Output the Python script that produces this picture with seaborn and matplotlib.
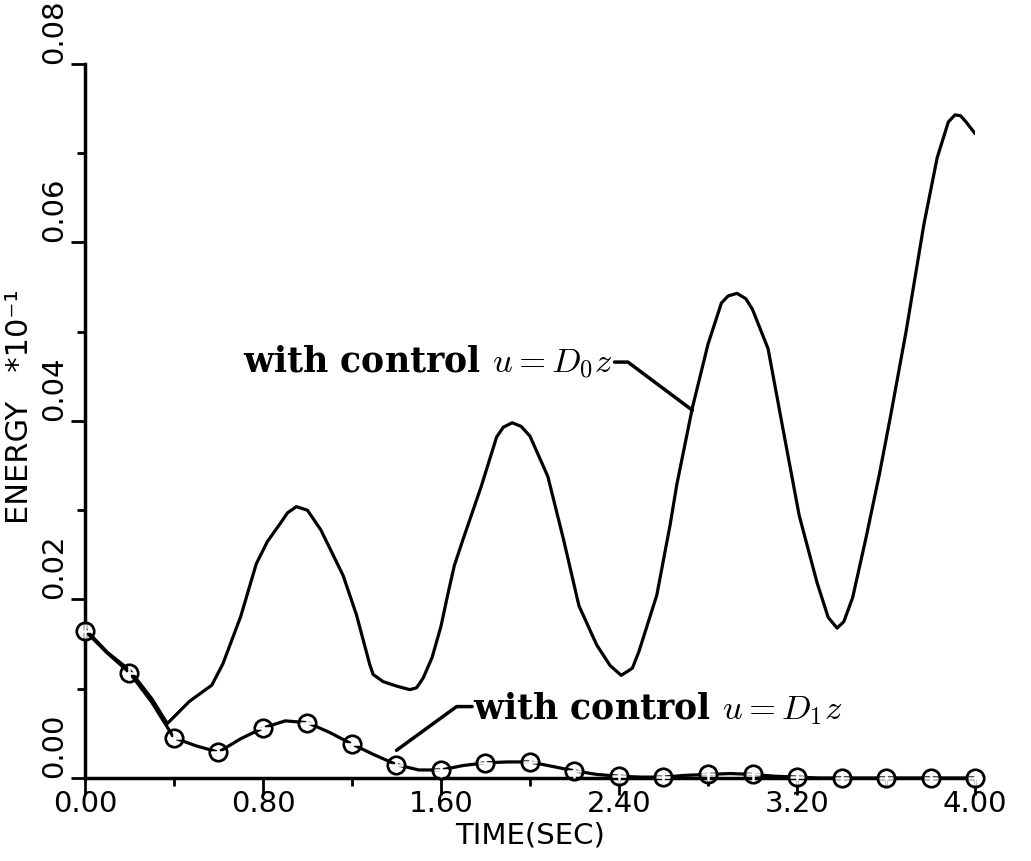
import numpy as np
import pandas as pd
import matplotlib
matplotlib.use("Agg")
import matplotlib.pyplot as plt
import seaborn as sns
from matplotlib.ticker import MultipleLocator, FormatStrFormatter

# ---- data ----
t_d0 = [0.00, 0.10, 0.20, 0.30, 0.37, 0.47, 0.57, 0.62, 0.70, 0.77, 0.82, 0.88,
        0.91, 0.95, 1.00, 1.06, 1.16, 1.22, 1.25, 1.28, 1.295, 1.34, 1.40, 1.46,
        1.49, 1.52, 1.56, 1.60, 1.63, 1.66, 1.70, 1.78, 1.85, 1.88, 1.92, 1.96,
        2.00, 2.08, 2.15, 2.22, 2.30, 2.36, 2.41, 2.46, 2.49, 2.57, 2.63, 2.66,
        2.73, 2.80, 2.86, 2.89, 2.93, 2.97, 3.00, 3.07, 3.14, 3.21, 3.29, 3.34,
        3.38, 3.41, 3.45, 3.51, 3.57, 3.62, 3.69, 3.77, 3.83, 3.88, 3.91, 3.935,
        3.96, 4.00]
energy_d0 = [0.0167, 0.0141, 0.0121, 0.0089, 0.0061, 0.0086, 0.0104, 0.0128,
             0.0181, 0.0240, 0.0265, 0.0286, 0.0297, 0.0304, 0.0300, 0.0278,
             0.0227, 0.0183, 0.0155, 0.0127, 0.0116, 0.0108, 0.0103, 0.0099,
             0.0101, 0.0112, 0.0135, 0.0170, 0.0205, 0.0238, 0.0268, 0.0326,
             0.0382, 0.0393, 0.0398, 0.0394, 0.0383, 0.0338, 0.0268, 0.0193,
             0.0149, 0.0126, 0.0115, 0.0123, 0.0142, 0.0205, 0.0284, 0.0329,
             0.0415, 0.0486, 0.0532, 0.0540, 0.0543, 0.0537, 0.0525, 0.0481,
             0.0387, 0.0294, 0.0219, 0.0180, 0.0168, 0.0175, 0.0202, 0.0269,
             0.0340, 0.0405, 0.0500, 0.0620, 0.0695, 0.0735, 0.0743, 0.0742,
             0.0735, 0.0722]

t_d1 = [round(0.1 * i, 1) for i in range(41)]
energy_d1 = [0.0165, 0.0140, 0.0118, 0.0085, 0.0045, 0.0036, 0.0029, 0.0044,
             0.0056, 0.0064, 0.0062, 0.0051, 0.0038, 0.0026, 0.0015, 0.0009,
             0.0009, 0.0014, 0.0017, 0.0018, 0.0018, 0.0013, 0.0008, 0.0004,
             0.0002, 0.0001, 0.0001, 0.0003, 0.0004, 0.0005, 0.0004, 0.0002,
             0.0001, 0.0000, 0.0000, 0.0000, 0.0000, 0.0000, 0.0000, 0.0000,
             0.0000]

x_ticks = [0.00, 0.80, 1.60, 2.40, 3.20, 4.00]
y_ticks = [0.00, 0.02, 0.04, 0.06, 0.08]

label_d0 = r"with control $u = D_0 z$"
label_d1 = r"with control $u = D_1 z$"

# ---- style ----
sns.set_style("ticks")
plt.rcParams["font.family"] = ["DejaVu Sans"]
plt.rcParams["mathtext.fontset"] = "cm"
plt.rcParams["text.color"] = "black"
plt.rcParams["axes.labelcolor"] = "black"
plt.rcParams["xtick.color"] = "black"
plt.rcParams["ytick.color"] = "black"

fig = plt.figure(figsize=(10.31, 8.61), dpi=100)
ax = fig.add_axes([0.0824, 0.0964, 0.8633, 0.8293])

df0 = pd.DataFrame({"t": t_d0, "e": energy_d0})
df1 = pd.DataFrame({"t": t_d1, "e": energy_d1})
dfm = df1.iloc[::2]

sns.lineplot(data=df0, x="t", y="e", ax=ax, color="black", lw=2.3,
             estimator=None, sort=False)
sns.lineplot(data=df1, x="t", y="e", ax=ax, color="black", lw=2.3,
             estimator=None)
sns.lineplot(data=dfm, x="t", y="e", ax=ax, color="black", linestyle="none",
             marker="o", markersize=12.5, markerfacecolor="none",
             markeredgecolor="black", markeredgewidth=2.0, estimator=None,
             clip_on=False, zorder=4)
sns.lineplot(data=dfm, x="t", y="e", ax=ax, color="black", linestyle="none",
             marker="+", markersize=10, markeredgewidth=1.8, estimator=None,
             clip_on=False, zorder=4)

ax.set_xlim(0, 4.0)
ax.set_ylim(0, 0.08)
ax.set_xticks(x_ticks)
ax.set_yticks(y_ticks)
ax.xaxis.set_minor_locator(MultipleLocator(0.4))
ax.yaxis.set_minor_locator(MultipleLocator(0.01))
ax.xaxis.set_major_formatter(FormatStrFormatter("%.2f"))
ax.yaxis.set_major_formatter(FormatStrFormatter("%.2f"))

for s in ["top", "right"]:
    ax.spines[s].set_visible(False)
for s in ["left", "bottom"]:
    ax.spines[s].set_linewidth(2.5)
    ax.spines[s].set_color("black")

ax.tick_params(axis="x", which="major", length=12, width=2, labelsize=21,
               pad=-3, colors="black")
ax.tick_params(axis="x", which="minor", length=6, width=2, colors="black")
ax.tick_params(axis="y", which="major", length=10, width=2, labelsize=21,
               pad=2, colors="black")
ax.tick_params(axis="y", which="minor", length=6, width=2, colors="black")
for lab in ax.get_yticklabels():
    lab.set_rotation(90)
    lab.set_va("bottom")

ax.set_xlabel("TIME(SEC)", fontsize=21, labelpad=2, color="black")
ax.set_ylabel("ENERGY   *10\u207b\u00b9", fontsize=22, color="black")
ax.yaxis.set_label_coords(-0.057, 0.52)

# ---- annotations ----
ann_font = dict(family="DejaVu Serif", weight="bold", size=25, color="black")
ax.text(2.37, 0.0466, label_d0, ha="right", va="center", **ann_font)
ax.plot([2.38, 2.44, 2.73], [0.0466, 0.0466, 0.0412], color="black", lw=2.5)

ax.text(1.745, 0.0078, label_d1, ha="left", va="center", **ann_font)
ax.plot([1.40, 1.67, 1.74], [0.0031, 0.0080, 0.0080], color="black", lw=2.5)

ax.set_facecolor("white")
fig.patch.set_facecolor("white")
fig.savefig("out.png", dpi=100)
